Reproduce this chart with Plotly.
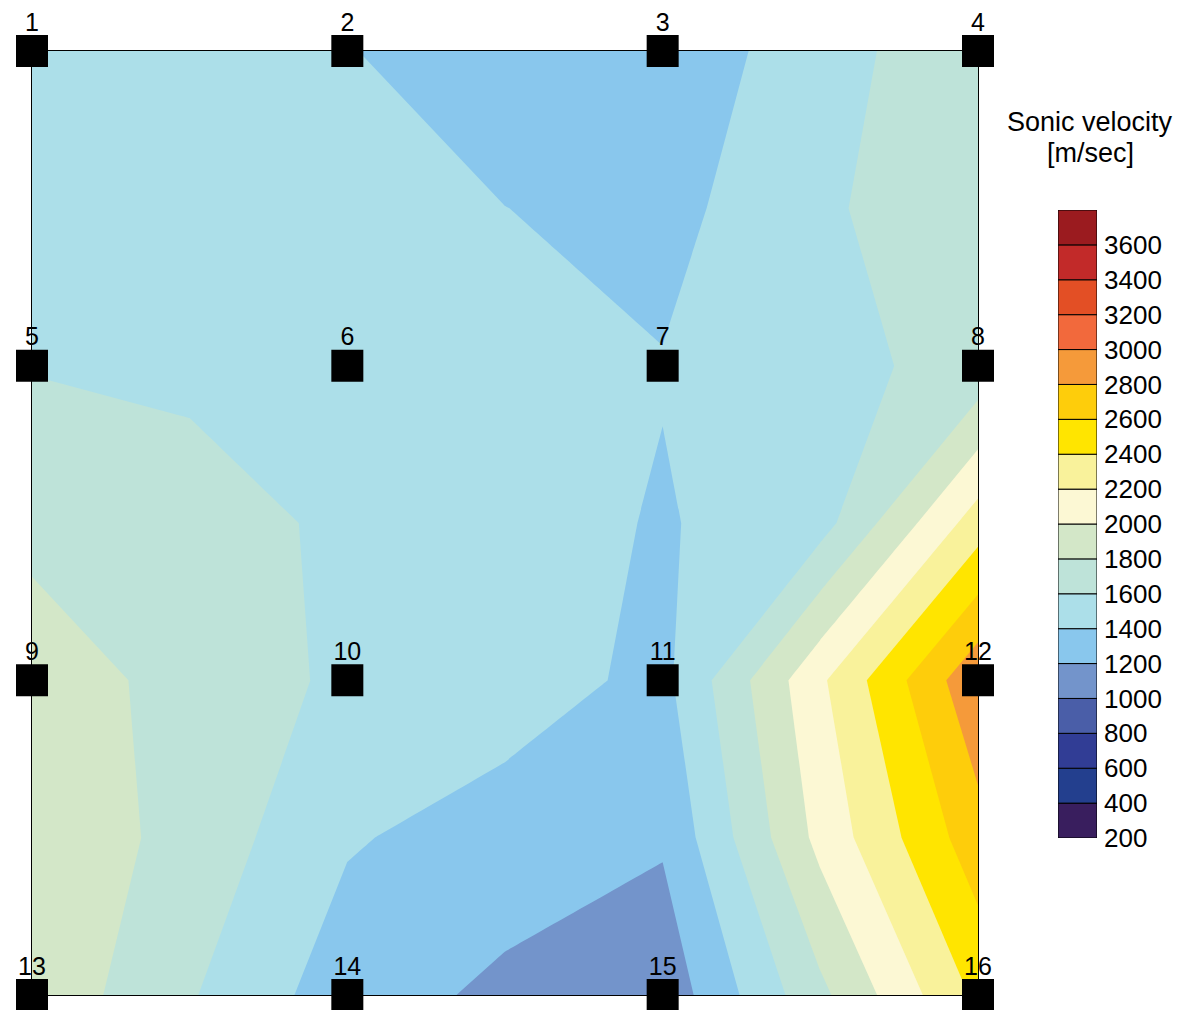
import plotly.graph_objects as go

# measuring grid: 4x4 nodes plus the mid points between them (0 = left / bottom)
xs = [0, 0.5, 1, 1.5, 2, 2.5, 3]
ys = [0, 0.5, 1, 1.5, 2, 2.5, 3]

# sonic velocity [m/sec], one list per row, bottom row first
row_0 = [1950, 1618, 1290, 1160, 1065, 1752, 2441]    # nodes 13..16
row_05 = [1960, 1729, 1420, 1305, 1225, 2060, 2720]
row_1 = [1904, 1734, 1559, 1503, 1345, 2166, 2960]    # nodes 9..12
row_15 = [1746, 1690, 1560, 1484, 1384, 1520, 2300]
row_2 = [1590, 1555, 1480, 1440, 1410, 1547, 1660]    # nodes 5..8
row_25 = [1550, 1480, 1440, 1402, 1332, 1576, 1710]
row_3 = [1500, 1450, 1410, 1267, 1261, 1516, 1750]    # nodes 1..4

node_x = [0, 1, 2, 3]
node_y = [0, 1, 2, 3]
node_labels = [["13", "14", "15", "16"],
               ["9", "10", "11", "12"],
               ["5", "6", "7", "8"],
               ["1", "2", "3", "4"]]

levels = list(range(200, 3800, 200))
tick_labels = [str(v) for v in levels]
band_colors = ["#391e5e", "#233f8e", "#313d95", "#4a5ea8", "#7394cb", "#89c7ed",
               "#acdfe9", "#bee3d9", "#d3e7c8", "#fcf8d4", "#f9f29b", "#ffe500",
               "#fecd0b", "#f59a3a", "#f2693c", "#e34f25", "#c22a29", "#9b1b1f"]

z = [row_0, row_05, row_1, row_15, row_2, row_25, row_3]

# stepped colorscale so each band gets one flat colour
n = len(band_colors)
cscale = []
for i, c in enumerate(band_colors):
    cscale.append([i / n, c])
    cscale.append([(i + 1) / n, c])

font = "Liberation Sans, Arial, sans-serif"

fig = go.Figure()
fig.add_trace(go.Contour(
    x=xs, y=ys, z=z,
    colorscale=cscale, zmin=200, zmax=3800,
    contours=dict(start=200, end=3800, size=200, coloring="fill"),
    line=dict(width=0, smoothing=0), showscale=False, hoverinfo="skip"))

# node markers and their numbers
mx, my, mt = [], [], []
for j, yv in enumerate(node_y):
    for i, xv in enumerate(node_x):
        mx.append(xv)
        my.append(yv)
        mt.append(node_labels[j][i])
fig.add_trace(go.Scatter(
    x=mx, y=my, mode="markers",
    marker=dict(symbol="square", size=32, color="black"),
    cliponaxis=False, showlegend=False, hoverinfo="skip"))
fig.add_trace(go.Scatter(
    x=mx, y=my, text=mt, mode="markers+text", textposition="top center",
    marker=dict(size=21, opacity=0),
    textfont=dict(size=25, color="black", family=font),
    cliponaxis=False, showlegend=False, hoverinfo="skip"))

# legend as a stack of boxes
fig.add_trace(go.Bar(
    x=[0] * n, y=[200] * n, base=levels, width=1,
    marker=dict(color=band_colors, line=dict(color="black", width=1)),
    xaxis="x2", yaxis="y2", showlegend=False, hoverinfo="skip"))

# page sits 8px in from the window corner
W = 1141   # paper width
H = 944    # paper height
fig.update_layout(
    width=1173, height=1002,
    margin=dict(l=24, r=8, t=43, b=15, autoexpand=False),
    plot_bgcolor="white", paper_bgcolor="white",
    font=dict(family=font, size=20, color="black"),
    xaxis=dict(domain=[0, 946 / W], range=[0, 3], showgrid=False, zeroline=False,
               showticklabels=False, ticks="", showline=True, mirror=True,
               linecolor="black", linewidth=1),
    yaxis=dict(range=[0, 3], showgrid=False, zeroline=False,
               showticklabels=False, ticks="", showline=True, mirror=True,
               linecolor="black", linewidth=1),
    xaxis2=dict(domain=[(1058 - 32) / W, (1097 - 32) / W], range=[-0.5, 0.5],
                showgrid=False, zeroline=False, showticklabels=False, anchor="y2"),
    yaxis2=dict(domain=[(995 - 838) / H, (995 - 210) / H], range=[200, 3800],
                anchor="x2", side="right", showgrid=False, zeroline=False,
                tickvals=levels, ticktext=tick_labels, ticks="",
                tickfont=dict(size=26), ticklabelstandoff=6),
    annotations=[
        dict(text="Sonic velocity", xref="paper", yref="paper",
             x=(1090 - 32) / W, y=(995 - 122) / H, showarrow=False,
             xanchor="center", yanchor="middle", font=dict(size=27)),
        dict(text="[m/sec]", xref="paper", yref="paper",
             x=(1090 - 32) / W, y=(995 - 153) / H, showarrow=False,
             xanchor="center", yanchor="middle", font=dict(size=27)),
    ],
)

fig.write_html("out.html")
